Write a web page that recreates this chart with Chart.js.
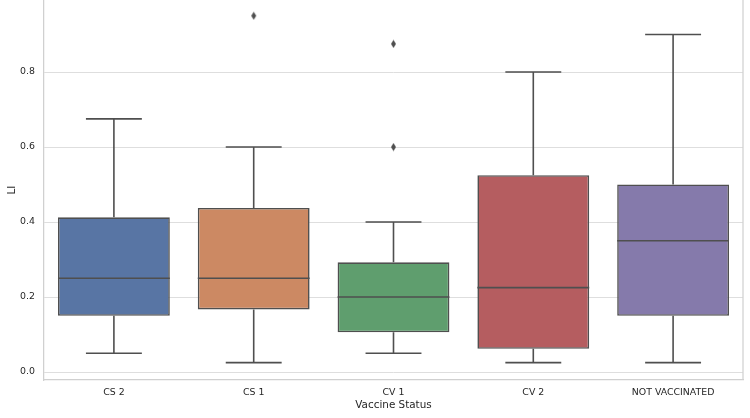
<!DOCTYPE html>
<html>
<head>
<meta charset="utf-8">
<script src="https://cdn.jsdelivr.net/npm/chart.js@4.4.0/dist/chart.umd.min.js"></script>
<style>
	html, body { margin: 0; padding: 0; background: #fff; }
	#wrap { width: 750px; height: 418px; }
</style>
</head>
<body>
<div id="wrap"><canvas id="chart"></canvas></div>
<script>
// box plot summary per vaccine status
const categories = ['CS 2', 'CS 1', 'CV 1', 'CV 2', 'NOT VACCINATED'];
const whiskerLow = [0.05, 0.025, 0.05, 0.025, 0.025];
const q1 = [0.15, 0.167, 0.106, 0.062, 0.15];
const median = [0.25, 0.25, 0.2, 0.225, 0.35];
const q3 = [0.4125, 0.4375, 0.2925, 0.525, 0.5];
const whiskerHigh = [0.675, 0.6, 0.4, 0.8, 0.9];

const outlierCategories = ['CS 1', 'CV 1', 'CV 1'];
const outlierValues = [0.95, 0.875, 0.6];

const yTicks = [0, 0.2, 0.4, 0.6, 0.8];

const boxColors = ['#5875a4', '#cc8963', '#5f9e6e', '#b55d60', '#857aab'];
const lineGray = '#4f4f4f';
const textColor = '#262626';
const fontFamily = "'DejaVu Sans', sans-serif";

// thin diamond marker, like matplotlib 'd'
function makeDiamond() {
	const c = document.createElement('canvas');
	c.width = 7;
	c.height = 9;
	const g = c.getContext('2d');
	g.fillStyle = lineGray;
	g.beginPath();
	g.moveTo(3.5, 0.5);
	g.lineTo(6, 4.5);
	g.lineTo(3.5, 8.5);
	g.lineTo(1, 4.5);
	g.closePath();
	g.fill();
	return c;
}

const whiskerPlugin = {
	id: 'whiskers',
	afterDatasetsDraw(chart) {
		const ctx = chart.ctx;
		const y = chart.scales.y;
		const bars = chart.getDatasetMeta(0).data;
		ctx.save();
		ctx.strokeStyle = lineGray;
		ctx.lineWidth = 1.6;
		bars.forEach((bar, i) => {
			const cx = bar.x;
			const half = bar.width / 2;
			const cap = bar.width / 4;
			const yHi = y.getPixelForValue(whiskerHigh[i]);
			const yLo = y.getPixelForValue(whiskerLow[i]);
			const yQ3 = y.getPixelForValue(q3[i]);
			const yQ1 = y.getPixelForValue(q1[i]);
			const yMed = y.getPixelForValue(median[i]);
			ctx.beginPath();
			ctx.moveTo(cx, yQ3); ctx.lineTo(cx, yHi);
			ctx.moveTo(cx - cap, yHi); ctx.lineTo(cx + cap, yHi);
			ctx.moveTo(cx, yQ1); ctx.lineTo(cx, yLo);
			ctx.moveTo(cx - cap, yLo); ctx.lineTo(cx + cap, yLo);
			ctx.moveTo(cx - half, yMed); ctx.lineTo(cx + half, yMed);
			ctx.stroke();
		});
		// right spine
		const area = chart.chartArea;
		ctx.strokeStyle = '#d0d0d0';
		ctx.lineWidth = 1.25;
		ctx.beginPath();
		ctx.moveTo(area.right, area.top);
		ctx.lineTo(area.right, area.bottom);
		ctx.stroke();
		ctx.restore();
	}
};

const boxData = categories.map((c, i) => [q1[i], q3[i]]);
const outlierData = outlierCategories.map((c, i) => ({ x: c, y: outlierValues[i] }));

new Chart(document.getElementById('chart'), {
	type: 'bar',
	data: {
		labels: categories,
		datasets: [{
			data: boxData,
			backgroundColor: boxColors,
			borderColor: lineGray,
			borderWidth: 1.6,
			borderSkipped: false,
			barPercentage: 0.8,
			categoryPercentage: 1.0
		}, {
			type: 'line',
			data: outlierData,
			showLine: false,
			pointStyle: makeDiamond(),
			pointRadius: 4
		}]
	},
	options: {
		responsive: true,
		maintainAspectRatio: false,
		animation: false,
		events: [],
		layout: { autoPadding: false, padding: { top: 0, right: 7, left: 0, bottom: 0 } },
		plugins: {
			legend: { display: false },
			tooltip: { enabled: false }
		},
		scales: {
			x: {
				afterFit: (scale) => {
					scale.height = 38;
					scale.paddingLeft = 0;
					scale.paddingRight = 0;
				},
				grid: { display: false, drawTicks: false },
				border: { display: true, color: '#d0d0d0', width: 1.25 },
				ticks: {
					padding: 7,
					color: textColor,
					font: { family: fontFamily, size: 9.4 }
				},
				title: {
					display: true,
					text: 'Vaccine Status',
					color: textColor,
					font: { family: fontFamily, size: 10.4 },
					padding: { top: 0, bottom: 6 }
				}
			},
			y: {
				min: -0.0213,
				max: 0.992,
				afterFit: (scale) => {
					scale.width = 44;
					scale.paddingTop = 0;
					scale.paddingBottom = 0;
				},
				afterBuildTicks: (scale) => { scale.ticks = yTicks.map(v => ({ value: v })); },
				grid: { color: '#dedede', lineWidth: 1, drawTicks: false },
				border: { display: true, color: '#d0d0d0', width: 1.25 },
				ticks: {
					padding: 9,
					color: textColor,
					font: { family: fontFamily, size: 9.4 },
					callback: (v) => Number(v).toFixed(1)
				},
				title: {
					display: true,
					text: 'LI',
					color: textColor,
					font: { family: fontFamily, size: 10.4 },
					padding: { top: 6, bottom: 0 }
				}
			}
		}
	},
	plugins: [whiskerPlugin]
});
</script>
</body>
</html>
